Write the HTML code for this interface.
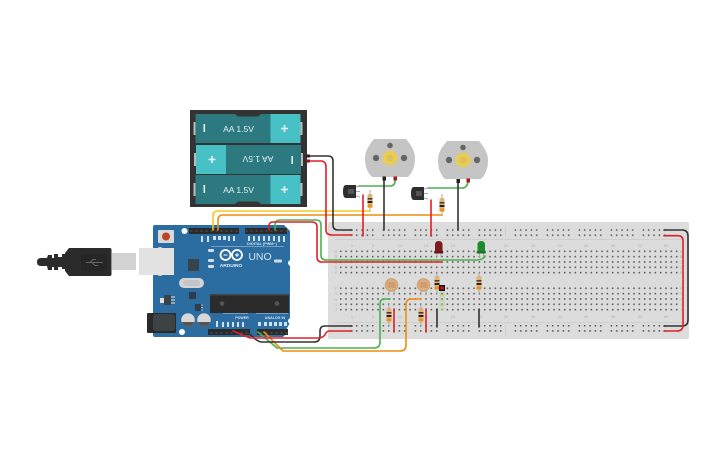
<!DOCTYPE html>
<html><head><meta charset="utf-8"><style>
html,body{margin:0;padding:0;background:#fff;width:725px;height:453px;overflow:hidden}
svg{display:block}
text{font-family:"Liberation Sans",sans-serif}
.w{fill:none;stroke-width:1.6;stroke-linecap:round;stroke-linejoin:round}
.n{font-size:4px;fill:#b0b0b0;text-anchor:middle}
</style></head><body>
<svg width="725" height="453" viewBox="0 0 725 453" xmlns="http://www.w3.org/2000/svg">
<defs>
<pattern id="h" x="339.9" y="250.5" width="5.333" height="5.333" patternUnits="userSpaceOnUse"><rect width="1.6" height="1.6" fill="#5c5c5c"/></pattern>
<pattern id="h2" x="339.9" y="287.5" width="5.333" height="5.333" patternUnits="userSpaceOnUse"><rect width="1.6" height="1.6" fill="#5c5c5c"/></pattern>
<pattern id="rt" x="350.6" y="229.2" width="32" height="5.2" patternUnits="userSpaceOnUse"><g fill="#5c5c5c"><rect x="0" width="1.6" height="1.6"/><rect x="5.33" width="1.6" height="1.6"/><rect x="10.66" width="1.6" height="1.6"/><rect x="16" width="1.6" height="1.6"/><rect x="21.33" width="1.6" height="1.6"/></g></pattern>
<pattern id="rt2" x="514.6" y="229.2" width="32" height="5.2" patternUnits="userSpaceOnUse"><g fill="#5c5c5c"><rect x="0" width="1.6" height="1.6"/><rect x="5.33" width="1.6" height="1.6"/><rect x="10.66" width="1.6" height="1.6"/><rect x="16" width="1.6" height="1.6"/><rect x="21.33" width="1.6" height="1.6"/></g></pattern>
<pattern id="rb" x="350.6" y="324.9" width="32" height="5.2" patternUnits="userSpaceOnUse"><g fill="#5c5c5c"><rect x="0" width="1.6" height="1.6"/><rect x="5.33" width="1.6" height="1.6"/><rect x="10.66" width="1.6" height="1.6"/><rect x="16" width="1.6" height="1.6"/><rect x="21.33" width="1.6" height="1.6"/></g></pattern>
<pattern id="rb2" x="514.6" y="324.9" width="32" height="5.2" patternUnits="userSpaceOnUse"><g fill="#5c5c5c"><rect x="0" width="1.6" height="1.6"/><rect x="5.33" width="1.6" height="1.6"/><rect x="10.66" width="1.6" height="1.6"/><rect x="16" width="1.6" height="1.6"/><rect x="21.33" width="1.6" height="1.6"/></g></pattern>
<pattern id="pin" x="189" y="228" width="5" height="6" patternUnits="userSpaceOnUse"><rect width="5" height="6" fill="#2a2a2a"/><rect x="1.5" y="2" width="2" height="2" fill="#444"/></pattern>
<g id="res"><line x1="0" y1="-11" x2="0" y2="11" stroke="#aaa" stroke-width="1"/><rect x="-2.5" y="-7" width="5" height="14" rx="1.5" fill="#dcb57e"/><rect x="-2.5" y="-3" width="5" height="1.6" fill="#5a3a20"/><rect x="-2.5" y="0" width="5" height="2" fill="#222"/><rect x="-2.5" y="3.5" width="5" height="2.6" fill="#f09010"/></g>
<g id="ldr"><line x1="-2.5" y1="3" x2="-2.5" y2="10" stroke="#aaa" stroke-width="1"/><line x1="2.5" y1="3" x2="2.5" y2="10" stroke="#aaa" stroke-width="1"/><circle r="6.3" fill="#dcae80" stroke="#c99a66" stroke-width=".8"/><path d="M-4-2H4M-4 0H4M-4 2H4" stroke="#b9824e" stroke-width=".7"/></g>
<g id="tr"><path d="M3 0H13V13H3Q0 13 0 6.5Q0 0 3 0Z" fill="#2e2e2e"/><rect x="5" y="4" width="6" height="5" fill="#555"/><path d="M13 2L17 1M13 6.5L17 6.5M13 11L17 12" stroke="#aaa" stroke-width="1"/></g>
<g id="mot"><path d="M-16-19H16C22-12 25-6 25 0C25 8 23 14 18 19H-18C-23 14-25 8-25 0C-25-6-22-12-16-19Z" fill="#c5c5c5"/><circle cx="-14" cy="0" r="3.2" fill="#666"/><circle cx="14" cy="0" r="3.2" fill="#666"/><circle cx="0" cy="-12.5" r="2.8" fill="#666"/><circle r="6" fill="#f2cf3a"/><circle r="7.4" fill="none" stroke="#f2cf3a" stroke-width="1.6" stroke-dasharray="1.8 1.4"/><circle r="3.4" fill="#d6c06a"/></g>
<g id="cell"><rect x="0" y="0" width="105" height="29" fill="#2c7a80"/><rect x="75" y="0" width="30" height="29" fill="#47c1c5"/><rect x="-2" y="8" width="2" height="13" fill="#bbb"/><rect x="105" y="8" width="2" height="13" fill="#bbb"/><rect x="8" y="10" width="1.6" height="8" fill="#dfeeee"/><path d="M85.5 14.5h7M89 11v7" stroke="#eef" stroke-width="1.6"/><text x="43" y="18" font-size="8.5" fill="#e6f2f2" text-anchor="middle">AA 1.5V</text></g>
</defs>

<!-- breadboard -->
<rect x="328" y="222" width="361" height="117" rx="2" fill="#dcdcdc"/>
<path d="M335 239.500H682M335 322.500H682M505.500 225V236M505.500 325V336" stroke="#cfcfcf" stroke-width="1"/>
<rect x="339.900" y="250.500" width="338" height="26" fill="url(#h)"/>
<rect x="339.900" y="287.500" width="338" height="26" fill="url(#h2)"/>
<rect x="350.600" y="229.200" width="152" height="8" fill="url(#rt)"/>
<rect x="514.600" y="229.200" width="152" height="8" fill="url(#rt2)"/>
<rect x="350.600" y="324.900" width="152" height="8" fill="url(#rb)"/>
<rect x="514.600" y="324.900" width="152" height="8" fill="url(#rb2)"/>
<g class="n">
<text x="352" y="247">1</text><text x="373" y="247">5</text><text x="400" y="247">10</text><text x="426" y="247">15</text><text x="453" y="247">20</text><text x="480" y="247">25</text><text x="506" y="247">30</text><text x="533" y="247">35</text><text x="560" y="247">40</text><text x="586" y="247">45</text><text x="613" y="247">50</text><text x="640" y="247">55</text><text x="666" y="247">60</text>
<text x="352" y="318">1</text><text x="373" y="318">5</text><text x="400" y="318">10</text><text x="426" y="318">15</text><text x="453" y="318">20</text><text x="480" y="318">25</text><text x="506" y="318">30</text><text x="533" y="318">35</text><text x="560" y="318">40</text><text x="586" y="318">45</text><text x="613" y="318">50</text><text x="640" y="318">55</text><text x="666" y="318">60</text>
<text x="336" y="253">A</text><text x="336" y="258">B</text><text x="336" y="264">C</text><text x="336" y="269">D</text><text x="336" y="274">E</text><text x="336" y="290">F</text><text x="336" y="295">G</text><text x="336" y="301">H</text><text x="336" y="306">I</text><text x="336" y="311">J</text>
<text x="681" y="253">A</text><text x="681" y="258">B</text><text x="681" y="264">C</text><text x="681" y="269">D</text><text x="681" y="274">E</text><text x="681" y="290">F</text><text x="681" y="295">G</text><text x="681" y="301">H</text><text x="681" y="306">I</text><text x="681" y="311">J</text>
</g>

<!-- battery -->
<rect x="190" y="110" width="117" height="97" fill="#333"/>
<use href="#cell" x="195.500" y="114"/>
<use href="#cell" transform="translate(301 174) rotate(180)"/>
<use href="#cell" x="195.500" y="175"/>
<path d="M235 114l3 2.500h20l3-2.500ZM235 204l3-2.500h20l3 2.500Z" fill="#333"/>
<rect x="306" y="154.500" width="4" height="3" fill="#222"/><rect x="306" y="159.500" width="4" height="3" fill="#8c1a1a"/>

<!-- USB -->
<path d="M41 258H47L48 255H52V258H54V254H58V257H62V254H65V269H62V267H58V270H54V267H52V270H48L47 266H41Q37 266 37 262Q37 258 41 258Z" fill="#2b2b2b"/>
<path d="M65 253L69 248H110Q111.500 248 111.500 250V274Q111.500 276 110 276H69L65 271Z" fill="#2b2b2b"/>
<rect x="81" y="254" width="26" height="17" fill="#262626"/>
<path d="M86 262.500H103M90 262.500L93 259.500H96M92 262.500L95 265.500H98" stroke="#666" stroke-width="1" fill="none"/>
<rect x="112" y="253" width="24" height="17" fill="#d2d2d2"/>

<!-- Arduino -->
<path d="M155 225H284L290 231V323L287 328V333L283 337H155Q153 337 153 335V227Q153 225 155 225Z" fill="#2b6ca1"/>
<rect x="139" y="248" width="35" height="27" fill="#e2e2e2"/><rect x="157" y="247" width="6" height="29" rx="3" fill="#e2e2e2"/>
<rect x="158" y="230" width="16" height="13" rx="1" fill="#d9d9d9"/><circle cx="166" cy="236.500" r="4" fill="#b8452a"/>
<circle cx="184.500" cy="231" r="3" fill="#fff"/><circle cx="291" cy="263" r="3" fill="#fff"/><circle cx="291" cy="321" r="3" fill="#fff"/><circle cx="182" cy="332" r="3" fill="#fff"/>
<rect x="189" y="228" width="50" height="6" fill="url(#pin)"/>
<rect x="245" y="228" width="42" height="6" fill="url(#pin)"/>
<rect x="208" y="329" width="42" height="6" fill="url(#pin)"/>
<rect x="257" y="329" width="31" height="6" fill="url(#pin)"/>
<rect x="188" y="259" width="11" height="12" fill="#39434c"/>
<rect x="179" y="278" width="25" height="10" rx="5" fill="#d4d4d4"/><rect x="183" y="280" width="17" height="6" rx="3" fill="#c4c4c4"/>
<rect x="189" y="292" width="7" height="7" fill="#2f3d4a"/>
<rect x="195" y="304" width="6" height="7" fill="#2f3d4a"/><path d="M201 305h2M201 307.500h2M201 310h2" stroke="#ccc" stroke-width=".8"/>
<rect x="164" y="295" width="7" height="10" fill="#39434c"/><rect x="160" y="298" width="4" height="5" fill="#ddd"/><path d="M171 297h4M171 300h4M171 303h4" stroke="#ccc" stroke-width="1.300"/>
<rect x="147" y="313" width="29" height="20" rx="1" fill="#2a2a2a"/><rect x="153" y="314" width="22" height="17" rx="3" fill="#3d4245"/>
<circle cx="188" cy="320" r="6.800" fill="#d8d8d8"/><path d="M181.500 322A6.800 6.800 0 0 0 194.500 322Z" fill="#555"/>
<circle cx="204" cy="320" r="6.800" fill="#d8d8d8"/><path d="M197.500 322A6.800 6.800 0 0 0 210.500 322Z" fill="#555"/>
<rect x="210" y="294" width="79" height="19" fill="#2b2b2b"/><path d="M210 294h79v1.500h-79z" fill="#444"/>
<circle cx="222" cy="303.500" r="2.300" fill="#555"/><circle cx="277" cy="303.500" r="2.300" fill="#555"/>
<g fill="#d0dde6"><rect x="208" y="249" width="6" height="3" rx="1"/><rect x="208" y="259" width="6" height="3" rx="1"/><rect x="208" y="265" width="6" height="3" rx="1"/><rect x="274" y="259.500" width="8" height="3" rx="1"/></g>
<path d="M211 246.500H284M223 313.500H248M256 313.500H288" stroke="#8fb3cf" stroke-width=".7"/>
<g fill="none" stroke="#fff" stroke-width="1.800"><circle cx="225.500" cy="255" r="5"/><circle cx="237" cy="255" r="5"/></g>
<path d="M223.500 255h4M235 255h4M237 253v4" stroke="#fff" stroke-width="1"/>
<text x="231" y="267" font-size="4.800" font-weight="bold" fill="#e8f0f6" text-anchor="middle">ARDUINO</text>
<text x="260" y="260" font-size="10.500" fill="#d5e3ee" text-anchor="middle">UNO</text>
<text x="262" y="245" font-size="3.800" font-weight="bold" fill="#d5e3ee" text-anchor="middle">DIGITAL (PWM~)</text>
<text x="242" y="319" font-size="3.600" font-weight="bold" fill="#d5e3ee" text-anchor="middle">POWER</text>
<text x="275" y="319" font-size="3.600" font-weight="bold" fill="#d5e3ee" text-anchor="middle">ANALOG IN</text>
<g fill="#cfe0ee"><rect x="201" y="236" width="2" height="6"/><rect x="207" y="236" width="2" height="6"/><rect x="213" y="236" width="3" height="4"/><rect x="218" y="236" width="3" height="4"/><rect x="223" y="236" width="3" height="4"/><rect x="228" y="236" width="2" height="5"/><rect x="233" y="236" width="2" height="5"/><rect x="248" y="236" width="2" height="5"/><rect x="253" y="236" width="2" height="5"/><rect x="258" y="236" width="2" height="5"/><rect x="263" y="236" width="2" height="5"/><rect x="268" y="236" width="2" height="5"/><rect x="273" y="236" width="2" height="5"/><rect x="278" y="236" width="2" height="6"/><rect x="283" y="236" width="2" height="6"/>
<rect x="216" y="321" width="2" height="6"/><rect x="222" y="322" width="2" height="5"/><rect x="227" y="322" width="2" height="5"/><rect x="232" y="322" width="2" height="5"/><rect x="237" y="322" width="2" height="5"/><rect x="242" y="322" width="2" height="5"/><rect x="258" y="322" width="3" height="4"/><rect x="264" y="322" width="3" height="4"/><rect x="269" y="322" width="3" height="4"/><rect x="274" y="322" width="3" height="4"/><rect x="279" y="322" width="3" height="4"/><rect x="284" y="322" width="3" height="4"/></g>

<!-- motors, transistors, parts -->
<use href="#mot" x="390" y="158"/>
<use href="#mot" x="463" y="160"/>
<use href="#tr" x="343" y="185"/>
<use href="#tr" x="411" y="187"/>
<use href="#res" x="370" y="201"/>
<use href="#res" x="442" y="205"/>
<use href="#res" x="437" y="283"/>
<use href="#res" x="479" y="283"/>
<use href="#res" x="389" y="315"/>
<use href="#res" x="421" y="315"/>
<use href="#ldr" x="391.500" y="285"/>
<use href="#ldr" x="423.500" y="285"/>

<!-- LEDs -->
<path d="M437 252v5M441 252v5M479.500 252v5M483.500 252v5" stroke="#aaa" stroke-width="1"/>
<path d="M435 253V245Q435 241 438.700 241Q442.500 241 442.500 245V253Z" fill="#7b1c1e"/><rect x="434.200" y="251" width="9" height="2.500" fill="#691416"/>
<path d="M477.500 253V245Q477.500 241 481.300 241Q485 241 485 245V253Z" fill="#1f8b30"/><rect x="476.700" y="251" width="9" height="2.500" fill="#187525"/>

<!-- wires -->
<path class="w" stroke="#f2c81e" d="M213 230V216Q213 211 218 211H370"/>
<path class="w" stroke="#f08c10" d="M218 230V220Q218 215 223 215H442"/>
<path class="w" stroke="#333" d="M310 156H328Q333 156 333 161V225Q333 230 338 230H352"/>
<path class="w" stroke="#e02028" d="M310 161H321Q326 161 326 167V230Q326 235 332 235H352"/>
<path class="w" stroke="#4cb050" d="M275 230V225Q275 220 280 220H316Q321 220 321 225V255Q321 260 326 260H477Q483 260 485 256"/>
<path class="w" stroke="#e02028" d="M269 230V226Q269 222 273 222H312Q317 222 317 227V257Q317 262 322 262H442"/>
<path class="w" stroke="#e02028" d="M363 195V236"/>
<path class="w" stroke="#e02028" d="M431 200V236"/>
<path class="w" stroke="#4cb050" d="M359 186H390Q395 186 395 181V178"/>
<path class="w" stroke="#4cb050" d="M428 188H462Q467 188 468 182"/>
<path class="w" stroke="#333" d="M384 178V230"/>
<path class="w" stroke="#333" d="M458 180V230"/>
<rect x="382.500" y="176.500" width="3.500" height="4" fill="#222"/><rect x="393.500" y="176.500" width="3.500" height="4" fill="#a01c1c"/>
<rect x="456.500" y="179" width="3.500" height="4" fill="#222"/><rect x="466.500" y="178.500" width="3.500" height="4" fill="#a01c1c"/>
<path class="w" stroke="#4cb050" d="M258 332L277 348H374Q380 348 380 342V304Q380 299 385 299H390"/>
<path class="w" stroke="#f08c10" d="M264 332L283 351H400Q406 351 406 345V305Q406 299 411 299H421"/>
<path class="w" stroke="#333" d="M246 331L253 337Q258 342 262 342H314Q320 342 320 336V331Q320 326 325 326H352"/>
<path class="w" stroke="#e02028" d="M233 331L250 338H318Q324 338 326 333Q327 331 330 331H352"/>
<path class="w" stroke="#e02028" d="M394 309V332"/>
<path class="w" stroke="#e02028" d="M426 309V332"/>
<path class="w" stroke="#333" d="M437 309V327"/>
<path class="w" stroke="#333" d="M479 309V327"/>
<path class="w" stroke="#333" d="M664 230H682Q688 230 688 236V320Q688 326 682 326H664"/>
<path class="w" stroke="#e02028" d="M664 235.700H678Q683 235.700 683 241V325Q683 331 677 331H664"/>

<!-- probe -->
<g fill="none" stroke="#bcd6a0" stroke-width="1"><rect x="440" y="291" width="4" height="4"/><rect x="440" y="296" width="4" height="4"/><rect x="440" y="301" width="4" height="4"/><rect x="440" y="306" width="4" height="4"/></g>
<rect x="439" y="285" width="6" height="6" fill="#111"/><rect x="440.500" y="286.500" width="3" height="3" fill="#f01010"/>
</svg>
</body></html>
